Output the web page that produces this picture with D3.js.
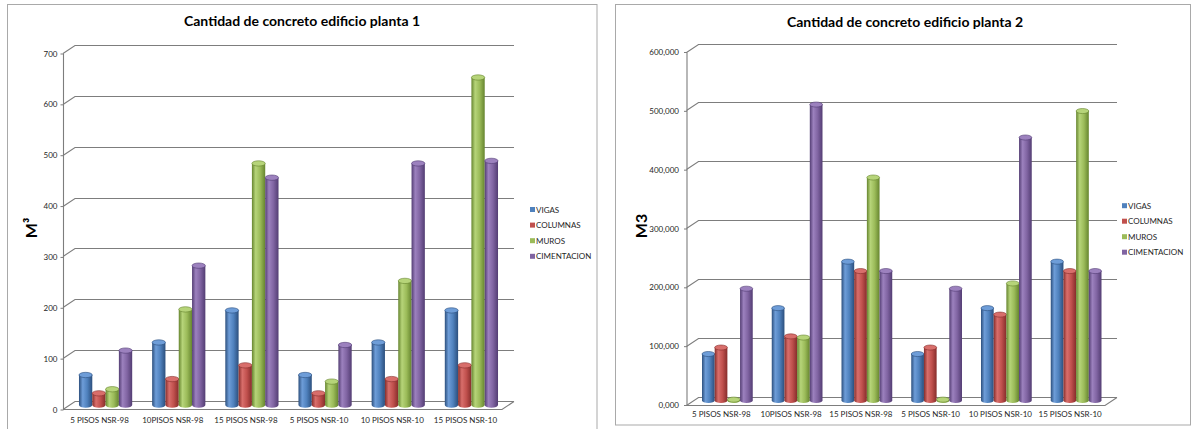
<!DOCTYPE html>
<html>
<head>
<meta charset="utf-8">
<script src="https://cdn.jsdelivr.net/npm/d3@7"></script>
<style>
  body { margin: 0; background: #fff; }
  svg { display: block; font-family: Lato, "Open Sans", sans-serif; }
</style>
</head>
<body>
<svg id="chart" width="1197" height="429"></svg>
<script>
// Building types (x categories) and element types (series)
const categories = ["5 PISOS NSR-98", "10PISOS NSR-98", "15 PISOS NSR-98", "5 PISOS NSR-10", "10 PISOS NSR-10", "15 PISOS NSR-10"];
const seriesNames = ["VIGAS", "COLUMNAS", "MUROS", "CIMENTACION"];

// Planta 1 concrete volumes (m³)
const planta1Vigas = [59, 123, 186, 59, 123, 186];
const planta1Columnas = [23, 51, 78, 23, 51, 78];
const planta1Muros = [31, 188, 475, 46, 244, 644];
const planta1Cimentacion = [107, 274, 447, 118, 475, 480];
const planta1Ticks = [0, 100, 200, 300, 400, 500, 600, 700];

// Planta 2 concrete volumes (m³)
const planta2Vigas = [79, 157, 236, 79, 157, 236];
const planta2Columnas = [90, 109, 220, 90, 146, 220];
const planta2Muros = [1.5, 107, 379, 1.5, 199, 492];
const planta2Cimentacion = [190, 503, 220, 190, 447, 220];
const planta2Ticks = [0, 100, 200, 300, 400, 500, 600];

// Series palette: [base, highlight, shadow]
const palette = [
  ["#4F81BD", "#6E9DD8", "#2C4F7D"],
  ["#C0504D", "#D86E6B", "#862D2B"],
  ["#9BBB59", "#B6D479", "#66852F"],
  ["#8064A2", "#9C81BE", "#533D73"]
];

const svg = d3.select("#chart");
const defs = svg.append("defs");
palette.forEach((c, i) => {
  const grad = defs.append("linearGradient").attr("id", "cyl" + i)
    .attr("x1", "0%").attr("x2", "100%").attr("y1", "0%").attr("y2", "0%");
  grad.append("stop").attr("offset", "0%").attr("stop-color", c[2]);
  grad.append("stop").attr("offset", "28%").attr("stop-color", c[1]);
  grad.append("stop").attr("offset", "62%").attr("stop-color", c[0]);
  grad.append("stop").attr("offset", "100%").attr("stop-color", c[2]);
});

function drawChart(cfg) {
  const g = svg.append("g");
  const gridColor = "#7d7d7d";

  g.append("rect")
    .attr("x", cfg.panel[0]).attr("y", cfg.panel[1])
    .attr("width", cfg.panel[2]).attr("height", cfg.panel[3])
    .attr("fill", "#fff").attr("stroke", "#a9a9a9").attr("stroke-width", 1);

  const y = d3.scaleLinear().domain([0, cfg.max]).range([cfg.yZero, cfg.yMax]);
  const x = d3.scaleBand().domain(categories).range([cfg.xLeft, cfg.xRight]);
  const barW = x.bandwidth() / 5.5;
  const xs = d3.scaleBand().domain(seriesNames)
    .range([barW * 0.75, x.bandwidth() - barW * 0.75]);
  const dx = cfg.depth[0], dy = cfg.depth[1];

  // back wall gridlines and side wall connectors
  const grid = g.append("g").attr("stroke", gridColor).attr("stroke-width", 1.1).attr("fill", "none");
  cfg.ticks.forEach(t => {
    const yy = Math.round(y(t)) + 0.5;
    grid.append("path").attr("d", `M${cfg.xLeft},${yy} L${cfg.xLeft + dx},${yy + dy} L${cfg.xRight + dx},${yy + dy}`);
  });
  // floor front edge and right edge
  const y0 = Math.round(y(0)) + 0.5;
  grid.append("path").attr("d", `M${cfg.xLeft},${y0} L${cfg.xRight},${y0} L${cfg.xRight + dx},${y0 + dy}`);
  // front vertical axis
  grid.append("path").attr("d", `M${cfg.xLeft + 0.5},${y0} L${cfg.xLeft + 0.5},${Math.round(y(cfg.max)) + 0.5}`);

  // y axis labels
  const yAxis = d3.axisLeft(y).tickValues(cfg.ticks).tickFormat(cfg.fmt)
    .tickSizeInner(3).tickSizeOuter(0).tickPadding(cfg.tickPad);
  const ya = g.append("g").attr("transform", `translate(${cfg.xLeft + 0.5},0.5)`).call(yAxis);
  ya.select(".domain").remove();
  ya.selectAll(".tick line").attr("stroke", gridColor);
  ya.selectAll("text").attr("font-size", 8).attr("fill", "#262626").attr("font-family", "Lato, sans-serif");

  // category labels
  const xAxis = d3.axisBottom(x).tickSize(0).tickPadding(0);
  const xa = g.append("g").attr("transform", `translate(0,${cfg.catY})`).call(xAxis);
  xa.select(".domain").remove();
  xa.selectAll("text").attr("font-size", 8).attr("fill", "#262626").attr("dy", 0)
    .attr("font-family", "Lato, sans-serif");

  // cylinders, placed at mid depth
  const ry = barW * 0.2;
  const baseY = y(0) + dy / 2;
  cfg.series.forEach((vals, si) => {
    const sg = g.append("g");
    vals.forEach((v, ci) => {
      const bx = x(categories[ci]) + dx / 2 + xs(seriesNames[si]);
      const bw = xs.bandwidth();
      const topY = y(v) + dy / 2;
      const rx = bw / 2;
      sg.append("path")
        .attr("d", `M${bx},${topY} L${bx},${baseY} A${rx},${ry} 0 0 0 ${bx + bw},${baseY} L${bx + bw},${topY} Z`)
        .attr("fill", `url(#cyl${si})`);
      sg.append("ellipse")
        .attr("cx", bx + rx).attr("cy", topY).attr("rx", rx).attr("ry", ry)
        .attr("fill", palette[si][1]).attr("stroke", palette[si][2]).attr("stroke-width", 0.6);
    });
  });

  // title
  g.append("text").attr("x", cfg.titleX).attr("y", cfg.titleY)
    .attr("text-anchor", "middle").attr("font-size", 14).attr("font-weight", "bold")
    .attr("fill", "#000").text(cfg.title);

  // value axis title
  g.append("text")
    .attr("transform", `translate(${cfg.axisTitle[0]},${cfg.axisTitle[1]}) rotate(-90)`)
    .attr("text-anchor", "middle").attr("font-size", 16).attr("font-weight", "bold")
    .attr("font-family", "Lato, sans-serif")
    .text(cfg.axisTitleText);

  // legend
  const lg = g.append("g");
  seriesNames.forEach((name, i) => {
    const ly = cfg.legend[1] + i * cfg.legend[2];
    lg.append("rect").attr("x", cfg.legend[0]).attr("y", ly - 2.5)
      .attr("width", 5).attr("height", 5).attr("fill", palette[i][0]);
    lg.append("text").attr("x", cfg.legend[0] + 6).attr("y", ly + 3)
      .attr("font-size", 8).attr("fill", "#262626").text(name);
  });
}

drawChart({
  panel: [7.5, 4.5, 589.5, 440],
  title: "Cantidad de concreto edificio planta 1", titleX: 302, titleY: 26,
  axisTitleText: "M³", axisTitle: [37, 228],
  max: 700, ticks: planta1Ticks, fmt: d3.format("d"), tickPad: 3,
  xLeft: 63, xRight: 502, yZero: 409, yMax: 53, depth: [12, -8],
  catY: 423,
  legend: [530, 209.5, 15.6],
  series: [planta1Vigas, planta1Columnas, planta1Muros, planta1Cimentacion]
});

drawChart({
  panel: [615.5, 4.5, 575, 420.5],
  title: "Cantidad de concreto edificio planta 2", titleX: 905, titleY: 27,
  axisTitleText: "M3", axisTitle: [647, 226],
  max: 600, ticks: planta2Ticks, fmt: v => d3.format(".3f")(v).replace(".", ","), tickPad: 5,
  xLeft: 686.5, xRight: 1105, yZero: 404.5, yMax: 51.5, depth: [12, -8],
  catY: 417,
  legend: [1122, 205.7, 15.5],
  series: [planta2Vigas, planta2Columnas, planta2Muros, planta2Cimentacion]
});
</script>
</body>
</html>
